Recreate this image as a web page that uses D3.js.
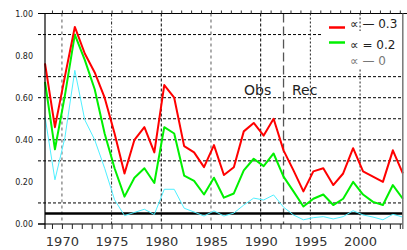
<!DOCTYPE html>
<html>
<head>
<meta charset="utf-8">
<script src="https://cdn.jsdelivr.net/npm/d3@7/dist/d3.min.js"></script>
<style>
  html, body { margin: 0; padding: 0; background: #fff; }
  svg { display: block; font-family: "DejaVu Sans", sans-serif; }
</style>
</head>
<body>
<svg id="chart" width="407" height="250"></svg>
<script>
// years on the x axis
const years = [1968, 1969, 1970, 1971, 1972, 1973, 1974, 1975, 1976, 1977,
  1978, 1979, 1980, 1981, 1982, 1983, 1984, 1985, 1986, 1987,
  1988, 1989, 1990, 1991, 1992, 1993, 1994, 1995, 1996, 1997,
  1998, 1999, 2000, 2001, 2002, 2003, 2004];

// alpha = 0.3 (red)
const alpha03 = [0.763, 0.46, 0.70, 0.936, 0.81, 0.72, 0.60, 0.43, 0.24, 0.40,
  0.46, 0.34, 0.66, 0.60, 0.37, 0.34, 0.27, 0.375, 0.233, 0.27,
  0.44, 0.48, 0.42, 0.50, 0.35, 0.255, 0.155, 0.25, 0.265, 0.185,
  0.24, 0.36, 0.25, 0.225, 0.20, 0.35, 0.24];

// alpha = 0.2 (green)
const alpha02 = [0.675, 0.355, 0.61, 0.90, 0.78, 0.64, 0.43, 0.265, 0.13, 0.22,
  0.265, 0.195, 0.46, 0.43, 0.23, 0.205, 0.14, 0.22, 0.125, 0.145,
  0.255, 0.31, 0.275, 0.335, 0.225, 0.155, 0.083, 0.12, 0.14, 0.09,
  0.12, 0.20, 0.14, 0.105, 0.09, 0.185, 0.12];

// alpha = 0 (cyan)
const alpha00 = [0.51, 0.21, 0.41, 0.73, 0.495, 0.40, 0.265, 0.115, 0.04, 0.055,
  0.07, 0.045, 0.165, 0.165, 0.075, 0.057, 0.038, 0.062, 0.038, 0.052,
  0.09, 0.123, 0.114, 0.138, 0.08, 0.043, 0.02, 0.03, 0.035, 0.024,
  0.035, 0.063, 0.043, 0.033, 0.02, 0.046, 0.033];

const yTickValues = [0, 0.2, 0.4, 0.6, 0.8, 1.0];
const yGridValues = [0.1, 0.3, 0.4, 0.5, 0.6, 0.7, 0.9];
const xLabelYears = [1970, 1975, 1980, 1985, 1990, 1995, 2000];
const xMinorYears = years.slice(1);
const thresholdValue = 0.05;
const splitYear = 1992;   // Obs | Rec boundary
const legendLabels = ["\u221D \u2014 0.3", "\u221D = 0.2", "\u221D \u2014 0"];

const svg = d3.select('#chart');

const plotLeft = 45, plotRight = 402.8, plotTop = 13.5, plotBottom = 224;

// data scale and the (slightly offset) tick scale of the original figure
const x = d3.scaleLinear().domain([1968, 2004]).range([plotLeft, plotRight]);
const xTick = d3.scaleLinear().domain([1968.3, 2004.3]).range([plotLeft, plotRight]);
const y = d3.scaleLinear().domain([0, 1]).range([plotBottom, plotTop]);

// horizontal gridlines
svg.append('g')
  .selectAll('line')
  .data(yGridValues)
  .join('line')
  .attr('x1', plotLeft - 7).attr('x2', plotRight)
  .attr('y1', d => y(d)).attr('y2', d => y(d))
  .attr('stroke', '#000')
  .attr('stroke-width', 1)
  .attr('stroke-dasharray', '3,2');

// vertical gridlines
const vStyle = {
  1970: { c: '#999', w: 1.6, dash: '3,3' },
  1975: { c: '#222', w: 1, dash: '3,2,1,2' },
  1980: { c: '#000', w: 1, dash: '3,2' },
  1985: { c: '#999', w: 1.6, dash: '3,3' },
  1990: { c: '#000', w: 1, dash: '3,2' },
  1995: { c: '#222', w: 1, dash: '2,2' },
  2000: { c: '#222', w: 1, dash: '2,2' }
};
svg.append('g')
  .selectAll('line')
  .data(xLabelYears)
  .join('line')
  .attr('x1', d => xTick(d)).attr('x2', d => xTick(d))
  .attr('y1', plotTop).attr('y2', plotBottom)
  .attr('stroke', d => vStyle[d].c)
  .attr('stroke-width', d => vStyle[d].w)
  .attr('stroke-dasharray', d => vStyle[d].dash);

// Obs / Rec separator
svg.append('line')
  .attr('x1', x(splitYear)).attr('x2', x(splitYear))
  .attr('y1', plotTop).attr('y2', plotBottom)
  .attr('stroke', '#555')
  .attr('stroke-width', 1.3)
  .attr('stroke-dasharray', '9,4');

// threshold line
svg.append('line')
  .attr('x1', plotLeft).attr('x2', plotRight)
  .attr('y1', y(thresholdValue)).attr('y2', y(thresholdValue))
  .attr('stroke', '#000')
  .attr('stroke-width', 2.6);

// series
const series = [
  { values: alpha00, color: '#4ff0ff', width: 1 },
  { values: alpha02, color: '#00f000', width: 2 },
  { values: alpha03, color: '#ff0000', width: 2 }
];
const line = d3.line()
  .x((d, i) => x(years[i]))
  .y(d => y(d));

svg.append('g')
  .selectAll('path')
  .data(series)
  .join('path')
  .attr('d', d => line(d.values))
  .attr('fill', 'none')
  .attr('stroke', d => d.color)
  .attr('stroke-width', d => d.width)
  .attr('stroke-linejoin', 'round');

// top axis
svg.append('line')
  .attr('x1', plotLeft - 7).attr('x2', 407)
  .attr('y1', plotTop).attr('y2', plotTop)
  .attr('stroke', '#000').attr('stroke-width', 1.2);
const topAxis = svg.append('g')
  .attr('transform', `translate(0,${plotTop})`)
  .call(d3.axisTop(xTick).tickValues(xMinorYears).tickSize(3).tickFormat(''));
topAxis.select('.domain').remove();
topAxis.selectAll('line').attr('stroke', '#333');

// bottom axis
svg.append('line')
  .attr('x1', plotLeft - 7).attr('x2', plotRight)
  .attr('y1', plotBottom).attr('y2', plotBottom)
  .attr('stroke', '#000').attr('stroke-width', 1.2);
const bottomAxis = svg.append('g')
  .attr('transform', `translate(0,${plotBottom})`)
  .call(d3.axisBottom(xTick)
    .tickValues(xMinorYears)
    .tickSize(5)
    .tickPadding(8)
    .tickFormat(d => (d % 5 === 0 ? d : '')));
bottomAxis.select('.domain').remove();
bottomAxis.selectAll('line').attr('stroke', '#222');
bottomAxis.selectAll('text')
  .style('font-family', '"DejaVu Sans", sans-serif')
  .style('font-size', '13px')
  .attr('fill', '#333');

// left axis
svg.append('line')
  .attr('x1', plotLeft).attr('x2', plotLeft)
  .attr('y1', plotTop).attr('y2', plotBottom + 5)
  .attr('stroke', '#000').attr('stroke-width', 1.2);
svg.selectAll('line.ytick')
  .data([0, 1])
  .join('line')
  .attr('class', 'ytick')
  .attr('x1', plotLeft - 7).attr('x2', plotLeft)
  .attr('y1', d => y(d)).attr('y2', d => y(d))
  .attr('stroke', '#000');
const leftAxis = svg.append('g')
  .attr('transform', `translate(${plotLeft},0)`)
  .call(d3.axisLeft(y).tickValues(yTickValues).tickSize(0).tickPadding(12)
    .tickFormat(d3.format('.2f')));
leftAxis.select('.domain').remove();
leftAxis.selectAll('text')
  .style('font-family', '"DejaVu Sans", sans-serif')
  .style('font-size', '8px')
  .attr('fill', '#222');

// right axis
svg.append('line')
  .attr('x1', plotRight).attr('x2', plotRight)
  .attr('y1', plotTop).attr('y2', plotBottom + 5)
  .attr('stroke', '#777').attr('stroke-width', 1.5);

// Obs / Rec labels
svg.append('text')
  .attr('x', 244).attr('y', 95)
  .style('font-size', '14px').attr('fill', '#222')
  .text('Obs');
svg.append('text')
  .attr('x', 292).attr('y', 95)
  .style('font-size', '14px').attr('fill', '#222')
  .text('Rec');

// legend
svg.append('rect')
  .attr('x', 322).attr('y', 31)
  .attr('width', 79).attr('height', 37)
  .attr('fill', '#fff');

const legendRows = [
  { label: legendLabels[0], color: '#ff0000', lineY: 27.5, textY: 27.5, textColor: '#222' },
  { label: legendLabels[1], color: '#00f000', lineY: 42.5, textY: 48.5, textColor: '#222' },
  { label: legendLabels[2], color: null, lineY: 0, textY: 64.5, textColor: '#777' }
];
legendRows.forEach(r => {
  if (r.color) {
    svg.append('line')
      .attr('x1', 329).attr('x2', 345)
      .attr('y1', r.lineY).attr('y2', r.lineY)
      .attr('stroke', r.color).attr('stroke-width', 2.5);
  }
  svg.append('text')
    .attr('x', 350).attr('y', r.textY)
    .style('font-size', '12px')
    .attr('fill', r.textColor)
    .text(r.label);
});
</script>
</body>
</html>
